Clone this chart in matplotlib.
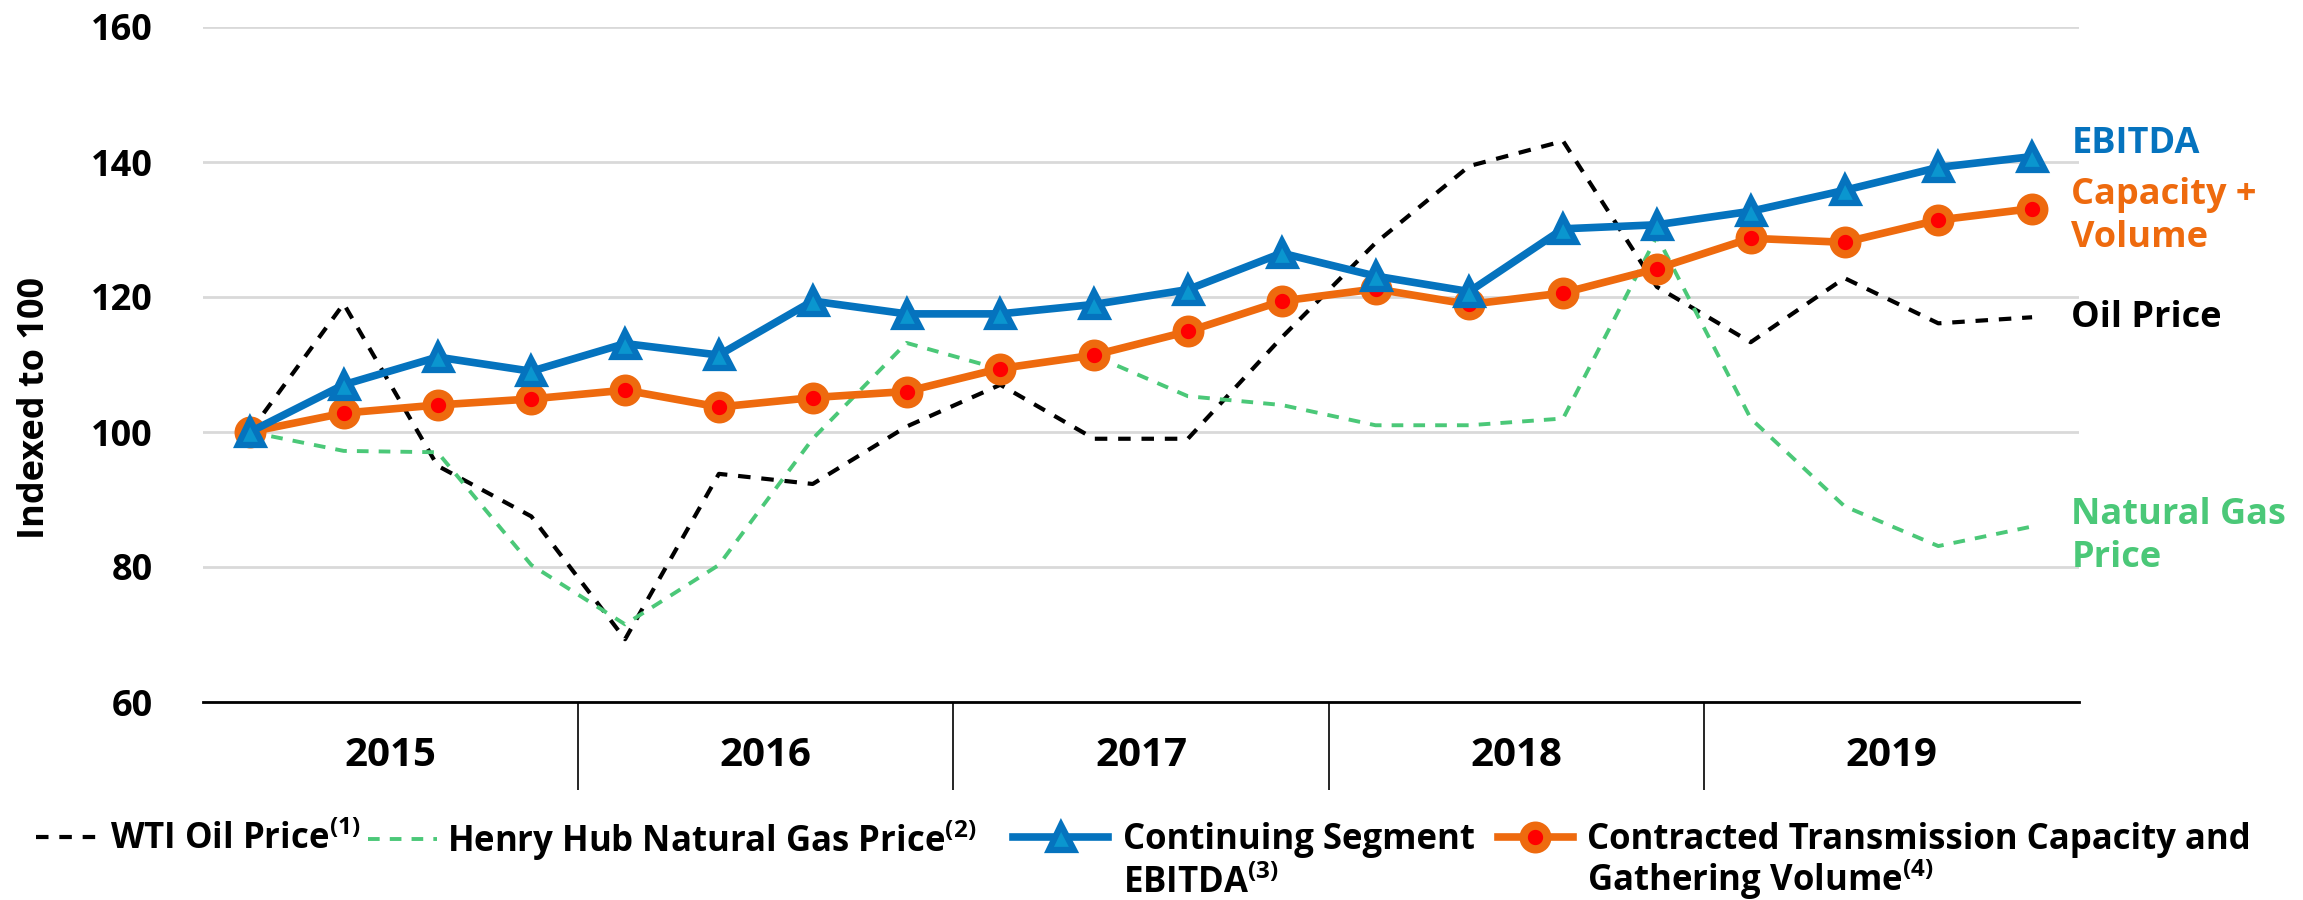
import matplotlib
matplotlib.use("Agg")
import matplotlib.pyplot as plt
import matplotlib.transforms as mtransforms
import numpy as np

plt.rcParams['font.family'] = ['Open Sans', 'DejaVu Sans']
plt.rcParams['font.weight'] = 'bold'
plt.rcParams['mathtext.fontset'] = 'custom'
plt.rcParams['mathtext.rm'] = 'Open Sans'
plt.rcParams['mathtext.bf'] = 'Open Sans:bold'

# quarterly index values, 2015 Q1 .. 2019 Q4 (indexed to 100)
years = ['2015', '2016', '2017', '2018', '2019']
ebitda = [100, 107.0, 111.1, 109.0, 113.1, 111.4, 119.4, 117.5, 117.5, 118.9,
          121.1, 126.5, 123.1, 120.8, 130.1, 130.7, 132.7, 135.8, 139.2, 140.8]
capacity = [100, 102.8, 104.0, 104.9, 106.2, 103.7, 105.1, 106.0, 109.4, 111.4,
            114.9, 119.4, 121.2, 118.9, 120.6, 124.2, 128.7, 128.1, 131.4, 133.1]
wti = [100, 119.0, 95.0, 87.5, 69.3, 93.8, 92.3, 100.8, 107.0, 99.0,
       99.0, 114.0, 128.0, 139.4, 143.1, 121.5, 113.3, 122.8, 116.1, 117.0]
henry = [100, 97.2, 97.0, 80.3, 71.5, 80.3, 99.0, 113.2, 109.3, 111.3,
         105.3, 104.0, 101.0, 101.0, 102.0, 129.0, 102.0, 89.0, 83.1, 86.0]

blue = '#0573BE'
blue_fill = '#0A96CF'
orange = '#EE6A0E'
green = '#4BC878'

W, H = 2303, 900
fig = plt.figure(figsize=(W / 100, H / 100), dpi=100)
ax = fig.add_axes([203 / W, 1 - 702 / H, (2079 - 203) / W, (702 - 27) / H])

x = np.arange(len(ebitda))

l_wti, = ax.plot(x, wti, color='black', lw=3.0, dashes=(3.0, 2.6), zorder=2)
l_hh, = ax.plot(x, henry, color=green, lw=2.8, dashes=(3.0, 2.6), zorder=2)
l_cap, = ax.plot(x, capacity, color=orange, lw=5.5, marker='o', ms=17,
                 mfc='#FF0000', mec=orange, mew=6, zorder=3)
l_eb, = ax.plot(x, ebitda, color=blue, lw=5.5, marker='^', ms=18,
                mfc=blue_fill, mec=blue, mew=4.5, zorder=4)

ax.set_xlim(-0.5, 19.5)
ax.set_ylim(60, 160)
ax.set_yticks(range(60, 161, 20))
ax.yaxis.grid(True, color='#D9D9D9', lw=2)
ax.set_axisbelow(True)
for s in ['top', 'right', 'left']:
    ax.spines[s].set_visible(False)
ax.spines['bottom'].set_linewidth(2)
ax.tick_params(axis='y', length=0, pad=36, labelsize=26)
for t in ax.get_yticklabels():
    t.set_fontweight('bold')

# year separators and year labels
ax.set_xticks([3.5, 7.5, 11.5, 15.5])
ax.set_xticklabels([])
ax.tick_params(axis='x', length=63, width=1.2, direction='out')
trans = mtransforms.blended_transform_factory(ax.transData, ax.transAxes)
for i, yr in enumerate(years):
    ax.text(i * 4 + 1.5, -53 / 675, yr, transform=trans, ha='center', va='center',
            fontsize=29, fontweight='bold')

fig.text(35 / W, 1 - 408 / H, 'Indexed to 100', rotation=90, ha='center',
         va='center', fontsize=26, fontweight='bold')

# end labels
ax.text(19.42, 142.7, 'EBITDA', color=blue, fontsize=26, fontweight='bold',
        va='center', ha='left', clip_on=False)
ax.text(19.42, 131.9, 'Capacity +\nVolume', color=orange, fontsize=26,
        fontweight='bold', va='center', ha='left', linespacing=1.25, clip_on=False)
ax.text(19.42, 116.9, 'Oil Price', color='black', fontsize=26, fontweight='bold',
        va='center', ha='left', clip_on=False)
ax.text(19.42, 84.5, 'Natural Gas\nPrice', color=green, fontsize=26,
        fontweight='bold', va='center', ha='left', linespacing=1.25, clip_on=False)

# legend, one entry each so the spacing can follow the original
fs_leg = 25
entries = [
    (l_wti, 'WTI Oil Price$^{\\mathbf{(1)}}$', 36, 2.0, 0.14, None),
    (l_hh, 'Henry Hub Natural Gas Price$^{\\mathbf{(2)}}$', 368, 2.0, 0.28, None),
    (l_eb, 'Continuing Segment', 1013, 2.75, 0.42, 'EBITDA$^{\\mathbf{(3)}}$'),
    (l_cap, 'Contracted Transmission Capacity and', 1498, 2.15, 0.42,
     'Gathering Volume$^{\\mathbf{(4)}}$'),
]
seconds = []
for handle, label, xpix, hl, pad, second in entries:
    leg = fig.legend([handle], [label], loc='center left',
                     bbox_to_anchor=(xpix / W, 1 - 840 / H), frameon=False,
                     handlelength=hl, handletextpad=pad, borderpad=0,
                     borderaxespad=0, prop={'size': fs_leg, 'weight': 'bold'})
    if second:
        seconds.append((leg.get_texts()[0], second))

fig.canvas.draw()
for txt, second in seconds:
    bb = txt.get_window_extent()
    fig.text(bb.x0 / W, (bb.y0 - 44) / H, second, ha='left', va='bottom',
             fontsize=fs_leg, fontweight='bold')

fig.savefig('out.png', dpi=100)
